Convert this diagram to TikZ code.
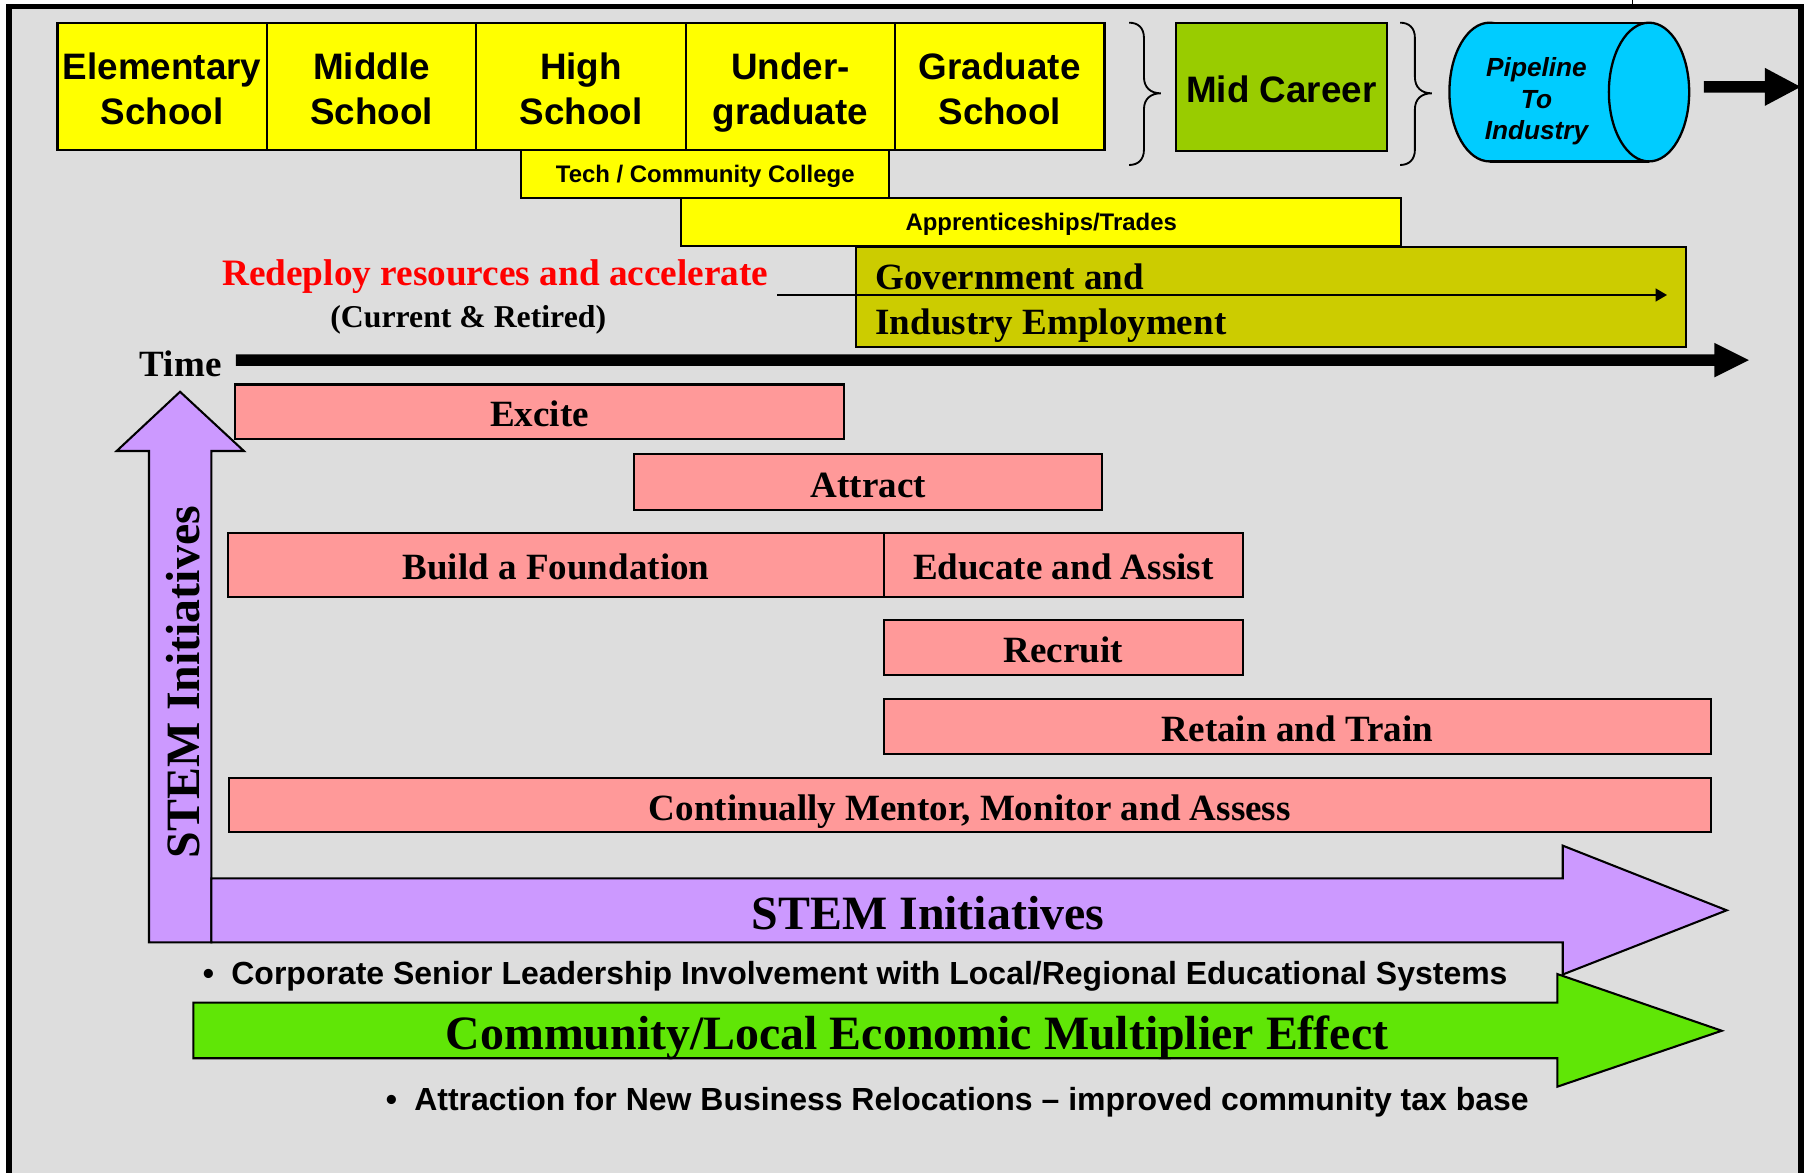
\documentclass[tikz,border=0pt]{standalone}
\usepackage{amsmath}
\usepackage{fontspec}
\setmainfont{Liberation Serif}
\newfontfamily\arialfont{Liberation Sans}
\usetikzlibrary{arrows.meta}
\newcommand{\linetop}[1]{\rule{0pt}{#1}}

\begin{document}
\begin{tikzpicture}[x=0.5pt,y=0.5pt,yscale=-1,xscale=1,
  schoolbox/.style={draw, line width=0.9pt, fill={rgb, 255:red, 255; green, 255; blue, 0}, inner sep=0pt, minimum width=91pt, minimum height=55.3pt, align=center, font=\arialfont\bfseries\fontsize{16}{19.6}\selectfont},
  trackbox/.style={draw, line width=0.9pt, fill={rgb, 255:red, 255; green, 255; blue, 0}, inner sep=0pt, minimum height=21pt, text depth=0pt, font=\arialfont\bfseries\fontsize{10.4}{12}\selectfont},
  stepbox/.style={draw, line width=0.9pt, fill={rgb, 255:red, 255; green, 153; blue, 153}, inner sep=0pt, text height=13.1pt, text depth=0pt, font=\bfseries\fontsize{16.1}{19.5}\selectfont},
  bigarrow/.style={draw, line width=0.9pt, line join=miter},
  serifbold/.style={anchor=base, inner sep=0pt, font=\bfseries\fontsize{16.1}{19.5}\selectfont},
  bullettext/.style={anchor=base west, inner sep=0pt, font=\arialfont\bfseries\fontsize{13.9}{16}\selectfont}
]

% page and frame
\fill[white] (0,0) rectangle (1568,1019);
\useasboundingbox (0,0) rectangle (1568,1019);
\draw[line width=2.4pt, fill={rgb, 255:red, 221; green, 221; blue, 221}] (7.8,5.6) rectangle (1565.5,1050);
\draw[line width=0.6pt] (1419,0) -- (1419,4);

% school stages
\node[schoolbox] (elem) at (141,75) {\linetop{13.7pt}Elementary\\School};
\node[schoolbox] (middle) at (323,75) {\linetop{13.7pt}Middle\\School};
\node[schoolbox] (high) at (505,75) {\linetop{13.7pt}High\\School};
\node[schoolbox] (ugrad) at (687,75) {\linetop{13.7pt}Under-\\\smash[b]{graduate}};
\node[schoolbox] (grad) at (869,75) {\linetop{13.7pt}Graduate\\School};
\node[schoolbox, fill={rgb, 255:red, 153; green, 204; blue, 0}, minimum width=91.4pt, minimum height=55.7pt, text height=13.7pt, text depth=0pt] (midcar) at (1113.8,75.3) {Mid Career};

% braces
\foreach \bx in {981.4,1216.9}
  \draw[line width=0.8pt, shift={(\bx,0)}] (0,19.7) .. controls (7.6,19.7) and (12.9,24) .. (12.9,33) -- (12.9,67) .. controls (12.9,76) and (18.6,81.1) .. (27.6,81.1) .. controls (18.6,81.1) and (12.9,86) .. (12.9,95) -- (12.9,130) .. controls (12.9,139) and (7.6,143.4) .. (0,143.4);

% pipeline cylinder
\draw[line width=1pt, fill={rgb, 255:red, 0; green, 204; blue, 255}] (1294.7,80) ellipse [x radius=34.9, y radius=60.3];
\fill[fill={rgb, 255:red, 0; green, 204; blue, 255}] (1294.7,19.7) rectangle (1433.3,140.3);
\draw[line width=1pt] (1294.7,19.7) -- (1433.3,19.7) (1294.7,140.3) -- (1433.3,140.3);
\draw[line width=1pt, fill={rgb, 255:red, 0; green, 204; blue, 255}] (1433.3,80) ellipse [x radius=34.9, y radius=60.3];
\node[align=center, inner sep=0pt, font=\arialfont\bfseries\itshape\fontsize{11.4}{13.8}\selectfont] (pipe) at (1335.5,88) {Pipeline\\To\\Industry};
\fill (1481,70.5) -- (1534,70.5) -- (1534,59) -- (1565,75.5) -- (1534,92) -- (1534,80.5) -- (1481,80.5) -- cycle;

% other tracks
\node[trackbox, minimum width=160pt] (tech) at (613,151.4) {Tech / Community College};
\node[trackbox, minimum width=313pt] (appr) at (905,193.1) {Apprenticeships/Trades};
\node[draw, line width=0.9pt, fill={rgb, 255:red, 204; green, 204; blue, 0}, minimum width=360.9pt, minimum height=43.4pt, inner xsep=8.6pt, inner ysep=0pt, text width=343.7pt, align=flush left, font=\bfseries\fontsize{16.1}{19.5}\selectfont] (gov) at (1104.6,257.9) {\linetop{13.1pt}Government and\\\smash[b]{Industry Employment}};

% redeploy
\node[serifbold, text=red, font=\bfseries\fontsize{16.2}{19}\selectfont] (redeploy) at (430.5,248.5) {Redeploy resources and accelerate};
\node[serifbold, font=\bfseries\fontsize{13.8}{16}\selectfont] (current) at (407,284.5) {(Current \& Retired)};
\coordinate (rdstart) at (675.5,256.4);
\coordinate (rdend) at (1449,256.4);
\draw[line width=1.1pt, -{Triangle[length=5pt,width=5.5pt]}] (rdstart) -- (rdend);

% time axis
\node[serifbold] (time) at (157,327.5) {Time};
\fill (205,308) -- (1490,308) -- (1490,298) -- (1520,313) -- (1490,328) -- (1490,318) -- (205,318) -- cycle;

% steps
\node[stepbox, minimum width=264.5pt, minimum height=23.7pt] (excite) at (469,357.9) {Excite};
\node[stepbox, minimum width=203.3pt, minimum height=24.2pt] (attract) at (754.7,419.1) {Attract};
\node[stepbox, minimum width=285.1pt, minimum height=27.6pt] (found) at (483.3,490.9) {Build a Foundation};
\node[stepbox, minimum width=155.8pt, minimum height=27.6pt] (educate) at (924.2,490.9) {Educate and Assist};
\node[stepbox, minimum width=155.8pt, minimum height=23.9pt] (recruit) at (924.2,562.8) {Recruit};
\node[stepbox, minimum width=359.3pt, minimum height=23.9pt] (retain) at (1127.7,631.5) {Retain and Train};
\node[stepbox, minimum width=644pt, minimum height=23.7pt] (mentor) at (843,699.7) {Continually Mentor, Monitor and Assess};

% STEM arrows
\draw[bigarrow, fill={rgb, 255:red, 204; green, 153; blue, 255}] (129.5,819) -- (129.5,392) -- (101.4,392) -- (156.5,340.5) -- (212,392) -- (183.7,392) -- (183.7,819) -- cycle;
\draw[bigarrow, fill={rgb, 255:red, 204; green, 153; blue, 255}] (183.7,763.4) -- (1358.3,763.4) -- (1358.3,735) -- (1500.8,791.2) -- (1358.3,847) -- (1358.3,819) -- (183.7,819) -- cycle;
\node[serifbold, rotate=90, font=\bfseries\fontsize{20.8}{24}\selectfont] (stemup) at (173,593) {STEM Initiatives};
\node[serifbold, font=\bfseries\fontsize{20.8}{24}\selectfont] (stemtxt) at (806.6,807.5) {STEM Initiatives};
\node[bullettext] (bulletA) at (176,856) {\textbullet\hspace{7.5pt}Corporate Senior Leadership Involvement with Local/Regional Educational Systems};

% community arrow
\draw[bigarrow, fill={rgb, 255:red, 96; green, 230; blue, 6}] (168,871.5) -- (1353.6,871.5) -- (1353.6,846.6) -- (1496.5,895.9) -- (1353.6,944.5) -- (1353.6,919.8) -- (168,919.8) -- cycle;
\node[serifbold, font=\bfseries\fontsize{20.8}{24}\selectfont] (econ) at (797,912) {Community/Local Economic Multiplier Effect};
\node[bullettext] (bulletB) at (335,965) {\textbullet\hspace{7.5pt}Attraction for New Business Relocations – improved community tax base};

\end{tikzpicture}
\end{document}
